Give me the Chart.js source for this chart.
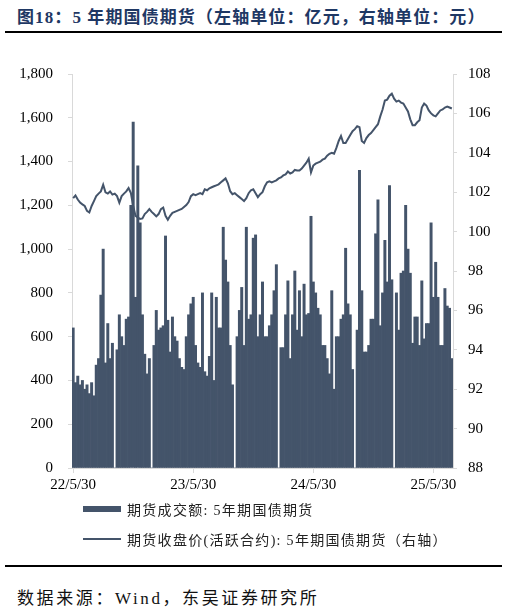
<!DOCTYPE html>
<html>
<head>
<meta charset="utf-8">
<script src="https://cdn.jsdelivr.net/npm/chart.js@4.4.1/dist/chart.umd.min.js"></script>
<style>
  html, body { margin: 0; padding: 0; background: #fff; }
  body { width: 507px; height: 613px; position: relative; overflow: hidden; }
  .serif { font-family: "Liberation Serif", "Noto Sans CJK SC", serif; }
  #title { position: absolute; left: 17px; top: 3px; font-weight: bold; font-size: 17px; color: #1F3864; letter-spacing: 1.1px; white-space: nowrap; }
  .rule { position: absolute; left: 5px; width: 497px; background: #000; }
  #chartBox { position: absolute; left: 0; top: 50px; width: 507px; height: 450px; }
  .leg { position: absolute; left: 83px; height: 16px; white-space: nowrap; font-size: 14px; color: #222; letter-spacing: 1.3px; }
  .sw { position: absolute; left: 0; width: 38px; background: #44546A; }
  .lt { position: absolute; left: 44px; top: -2px; }
  #source { position: absolute; left: 17px; top: 584px; font-size: 17px; color: #111; letter-spacing: 2.6px; white-space: nowrap; }
</style>
</head>
<body>
<div id="title" class="serif">图18：5 年期国债期货（左轴单位：亿元，右轴单位：元）</div>
<div class="rule" style="top:31px;height:2px;"></div>
<div id="chartBox"><canvas id="c"></canvas></div>
<div class="leg serif" style="top:501px;"><div class="sw" style="top:5px;height:6px;"></div><div class="lt">期货成交额: 5年期国债期货</div></div>
<div class="leg serif" style="top:531px;"><div class="sw" style="top:7px;height:2px;"></div><div class="lt">期货收盘价(活跃合约): 5年期国债期货（右轴）</div></div>
<div class="rule" style="top:565px;height:1.5px;"></div>
<div id="source" class="serif">数据来源：Wind，东吴证券研究所</div>
<script>
// ---- data (weekly samples) ----
const startDate = '2022-05-30';
const volumeLabel = '期货成交额: 5年期国债期货';
const priceLabel = '期货收盘价(活跃合约): 5年期国债期货（右轴）';

const volume = [
  640, 390, 420, 380, 400, 360, 380, 340, 390, 330,
  470, 500, 790, 1000, 480, 660, 500, 570, 0, 540,
  700, 600, 560, 680, 690, 1200, 1580, 780, 1380, 1120,
  700, 520, 430, 500, 0, 560, 720, 630, 640, 650,
  1060, 675, 530, 690, 600, 580, 500, 460, 450, 600,
  700, 750, 780, 560, 480, 460, 800, 440, 420, 510,
  800, 400, 780, 640, 640, 1100, 950, 850, 560, 380,
  0, 600, 720, 825, 560, 1100, 680, 700, 1050, 1065,
  600, 700, 850, 600, 600, 650, 700, 810, 929, 0,
  550, 550, 700, 855, 500, 700, 900, 630, 810, 600,
  840, 700, 706, 1150, 850, 800, 730, 700, 560, 560,
  500, 430, 810, 360, 600, 600, 680, 700, 1004, 750,
  700, 450, 0, 630, 1360, 810, 530, 530, 560, 680,
  680, 1070, 1225, 650, 800, 1040, 850, 1290, 860, 0,
  800, 630, 890, 900, 1200, 1000, 890, 570, 690, 690,
  560, 855, 590, 660, 660, 1120, 780, 940, 780, 560,
  560, 820, 740, 730, 500
];

const price = [
  101.70, 101.83, 101.63, 101.47, 101.38, 101.30, 101.05, 100.97, 101.30, 101.55,
  101.80, 101.93, 102.04, 102.38, 101.99, 101.93, 102.04, 101.88, 101.93, 101.80,
  101.47, 101.80, 101.93, 102.04, 102.21, 101.96, 101.30, 100.80, 100.72, 100.64,
  100.67, 100.89, 101.00, 101.14, 101.00, 100.89, 100.77, 100.89, 101.14, 101.22,
  100.80, 100.60, 100.80, 100.95, 101.00, 101.05, 101.10, 101.15, 101.25, 101.35,
  101.50, 101.80, 101.90, 101.85, 101.90, 101.95, 101.90, 102.15, 102.10, 102.20,
  102.25, 102.30, 102.35, 102.40, 102.50, 102.60, 102.70, 102.45, 102.05, 101.90,
  101.95, 101.85, 101.75, 101.65, 101.55, 101.70, 101.95, 102.10, 102.15, 101.95,
  101.75, 101.90, 102.00, 102.30, 102.50, 102.55, 102.50, 102.55, 102.60, 102.70,
  102.75, 102.85, 102.90, 103.05, 102.95, 103.00, 103.13, 103.10, 103.10, 103.20,
  103.35, 103.50, 103.70, 103.00, 103.35, 103.45, 103.50, 103.55, 103.65, 103.70,
  103.85, 103.95, 104.00, 103.95, 104.25, 104.60, 104.85, 104.50, 104.50, 104.70,
  104.90, 105.10, 105.20, 105.35, 105.30, 104.60, 104.50, 104.75, 104.90, 105.00,
  105.15, 105.30, 105.45, 105.85, 106.20, 106.65, 106.70, 106.90, 107.00, 106.75,
  106.60, 106.65, 106.55, 106.50, 106.30, 106.10, 105.70, 105.40, 105.40, 105.55,
  105.65, 106.30, 106.50, 106.40, 106.15, 106.00, 105.90, 105.85, 106.00, 106.15,
  106.20, 106.30, 106.35, 106.30, 106.25
];

const xTickIndex = [0, 52, 104, 156];
const xTickText = ['22/5/30', '23/5/30', '24/5/30', '25/5/30'];
const leftTicks = { min: 0, max: 1800, step: 200 };
const rightTicks = { min: 88, max: 108, step: 2 };

// weekly category labels
const weeks = [];
{
  const d0 = new Date(startDate + 'T00:00:00Z');
  for (let i = 0; i < volume.length; i++) {
    const d = new Date(d0.getTime() + i * 7 * 86400000);
    weeks.push(d.toISOString().slice(0, 10));
  }
}

const COLOR = '#44546A';
const AXIS = '#D9D9D9';
const tickFont = { family: '"Liberation Serif", "Times New Roman", serif', size: 15 };

new Chart(document.getElementById('c'), {
  data: {
    labels: weeks,
    datasets: [
      {
        type: 'line', label: priceLabel, data: price, yAxisID: 'y2',
        borderColor: COLOR, borderWidth: 2, pointRadius: 0, tension: 0, order: 0
      },
      {
        type: 'bar', label: volumeLabel, data: volume, yAxisID: 'y',
        backgroundColor: COLOR, borderWidth: 0,
        barPercentage: 1, categoryPercentage: 1, order: 1
      }
    ]
  },
  options: {
    responsive: true, maintainAspectRatio: false, animation: false,
    devicePixelRatio: 1,
    layout: { padding: { top: 15, bottom: 0, left: 0, right: 0 } },
    plugins: { legend: { display: false }, tooltip: { enabled: false } },
    scales: {
      x: {
        type: 'category', offset: true,
        grid: { display: true, drawOnChartArea: false, drawTicks: true, tickLength: 5, color: AXIS, offset: false },
        border: { display: true, color: AXIS, width: 1 },
        ticks: {
          autoSkip: false, maxRotation: 0, minRotation: 0, padding: 3, color: '#000', font: tickFont,
          callback: (v) => { const k = xTickIndex.indexOf(v); return k >= 0 ? xTickText[k] : ''; }
        },
        afterBuildTicks: (s) => { s.ticks = xTickIndex.map(v => ({ value: v })); },
        afterFit: (s) => { s.height = 32; }
      },
      y: {
        position: 'left', min: leftTicks.min, max: leftTicks.max,
        grid: { display: true, drawOnChartArea: false, drawTicks: true, tickLength: 4, color: AXIS },
        border: { display: true, color: AXIS, width: 1 },
        ticks: {
          stepSize: leftTicks.step, padding: 15, color: '#000', font: tickFont,
          callback: (v) => Number(v).toLocaleString('en-US')
        },
        afterFit: (s) => { s.width = 72; }
      },
      y2: {
        position: 'right', min: rightTicks.min, max: rightTicks.max,
        grid: { display: true, drawOnChartArea: false, drawTicks: true, tickLength: 4, color: AXIS },
        border: { display: true, color: AXIS, width: 1 },
        ticks: { stepSize: rightTicks.step, padding: 11, color: '#000', font: tickFont },
        afterFit: (s) => { s.width = 54; }
      }
    }
  }
});
</script>
</body>
</html>
